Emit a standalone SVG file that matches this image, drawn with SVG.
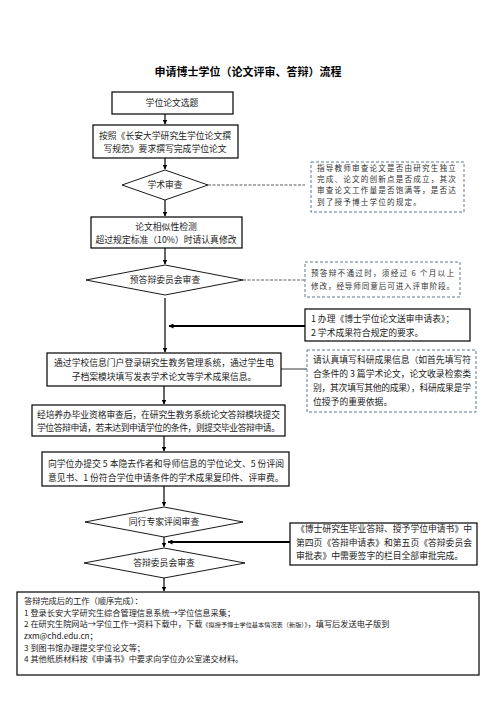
<svg xmlns="http://www.w3.org/2000/svg" width="496" height="702" viewBox="0 0 496 702">
<defs>
<marker id="ah" viewBox="0 0 10 10" refX="9" refY="5" markerWidth="5" markerHeight="5" orient="auto" markerUnits="userSpaceOnUse">
<path d="M0,0 L10,5 L0,10 z" fill="#000"/>
</marker>
<style>
.t{font-family:"Noto Sans CJK SC","Liberation Serif",serif;font-size:8.8px;fill:#222;}
.b{font-family:"Noto Sans CJK SC","Liberation Serif",serif;font-size:8.2px;fill:#222;}
.s{font-family:"Noto Sans CJK SC","Liberation Serif",serif;font-size:7.6px;fill:#333;}
.sp{letter-spacing:1.15px;}
.box{fill:#fff;stroke:#000;stroke-width:1.2;}
.dbox{fill:#fff;stroke:#4a6a8a;stroke-width:0.9;stroke-dasharray:3,2;}
.dia{fill:#fff;stroke:#000;stroke-width:0.9;}
.ln{stroke:#000;stroke-width:1.2;fill:none;}
.thick{stroke:#000;stroke-width:2;fill:none;}
.dl{stroke:#333;stroke-width:0.8;stroke-dasharray:3,1.5;fill:none;}
</style>
</defs>
<rect width="496" height="702" fill="#fff"/>
<text x="248" y="76" text-anchor="middle" style="font-family:'Noto Sans CJK SC',sans-serif;font-size:11px;font-weight:bold;fill:#000">申请博士学位（论文评审、答辩）流程</text>

<g id="connectors">
<line class="ln" x1="165" y1="114" x2="165" y2="124" marker-end="url(#ah)"/>
<line class="ln" x1="165" y1="158" x2="165" y2="169" marker-end="url(#ah)"/>
<line class="ln" x1="165" y1="200" x2="165" y2="216" marker-end="url(#ah)"/>
<line class="ln" x1="165" y1="248" x2="165" y2="264" marker-end="url(#ah)"/>
<line class="ln" x1="165" y1="298" x2="165" y2="352" marker-end="url(#ah)"/>
<line class="thick" x1="305" y1="326" x2="169" y2="326" marker-end="url(#ah)"/>
<line class="ln" x1="164" y1="386" x2="164" y2="404" marker-end="url(#ah)"/>
<line class="ln" x1="164" y1="436" x2="164" y2="451" marker-end="url(#ah)"/>
<line class="ln" x1="164" y1="486" x2="164" y2="506" marker-end="url(#ah)"/>
<line class="ln" x1="164" y1="537" x2="164" y2="547" marker-end="url(#ah)"/>
<line class="thick" x1="290" y1="542" x2="168" y2="542" marker-end="url(#ah)"/>
<line class="ln" x1="164" y1="578" x2="164" y2="591" marker-end="url(#ah)"/>
<line class="dl" x1="208" y1="185" x2="305" y2="185"/>
<line class="dl" x1="243" y1="280" x2="305" y2="280"/>
<line class="ln" style="stroke-width:0.8" x1="281" y1="369" x2="307" y2="369"/>
</g>

<g id="n1">
<rect class="box" x="112" y="92" width="121" height="22"/>
<text class="t" x="172" y="106" text-anchor="middle">学位论文选题</text>
</g>
<g id="n2">
<rect class="box" x="93" y="125" width="145" height="33"/>
<text class="t" x="165" y="139" text-anchor="middle">按照《长安大学研究生学位论文撰</text>
<text class="t" x="165" y="152" text-anchor="middle">写规范》要求撰写完成学位论文</text>
</g>
<g id="n3">
<polygon class="dia" points="122,185 165,170 208,185 165,200"/>
<text class="t" x="165" y="188" text-anchor="middle">学术审查</text>
</g>
<g id="n3note">
<rect class="dbox" x="311" y="162" width="153" height="50"/>
<text class="s sp" x="317" y="171">指导教师审查论文是否由研究生独立</text>
<text class="s sp" x="317" y="182">完成、论文的创新点是否成立，其次</text>
<text class="s sp" x="317" y="193">审查论文工作量是否饱满等，是否达</text>
<text class="s sp" x="317" y="205">到了授予博士学位的规定。</text>
</g>
<g id="n4">
<rect class="box" x="91" y="217" width="151" height="31"/>
<text class="t" x="166" y="230" text-anchor="middle">论文相似性检测</text>
<text class="t" x="166" y="243" text-anchor="middle">超过规定标准（10%）时请认真修改</text>
</g>
<g id="n5">
<polygon class="dia" points="86,280 165,265 243,280 165,295"/>
<text class="t" x="165" y="283" text-anchor="middle">预答辩委员会审查</text>
</g>
<g id="n5note">
<rect class="dbox" x="305" y="262" width="155" height="35"/>
<text class="s" x="311" y="276" textLength="143" lengthAdjust="spacing">预答辩不通过时，须经过 6 个月以上</text>
<text class="s" x="311" y="289" textLength="143" lengthAdjust="spacing">修改，经导师同意后可进入评审阶段。</text>
</g>
<g id="n6">
<rect class="box" x="305" y="309" width="165" height="32"/>
<text class="t" x="311" y="322">1 办理《博士学位论文送审申请表》；</text>
<text class="t" x="311" y="336">2 学术成果符合规定的要求。</text>
</g>
<g id="n7">
<rect class="box" x="47" y="353" width="234" height="33"/>
<text class="t" x="164" y="366" text-anchor="middle">通过学校信息门户登录研究生教务管理系统，通过学生电</text>
<text class="t" x="164" y="380" text-anchor="middle">子档案模块填写发表学术论文等学术成果信息。</text>
</g>
<g id="n7note">
<rect class="dbox" x="307" y="350" width="169" height="62"/>
<text class="t" x="313" y="363" textLength="158" lengthAdjust="spacing">请认真填写科研成果信息（如首先填写符</text>
<text class="t" x="313" y="377" textLength="158" lengthAdjust="spacing">合条件的 3 篇学术论文，论文收录检索类</text>
<text class="t" x="313" y="391" textLength="158" lengthAdjust="spacing">别，其次填写其他的成果），科研成果是学</text>
<text class="t" x="313" y="405">位授予的重要依据。</text>
</g>
<g id="n8">
<rect class="box" x="32" y="405" width="253" height="31"/>
<text class="t" x="37" y="418" textLength="243" lengthAdjust="spacing">经培养办毕业资格审查后，在研究生教务系统论文答辩模块提交</text>
<text class="t" x="37" y="431" textLength="243" lengthAdjust="spacing">学位答辩申请，若未达到申请学位的条件，则提交毕业答辩申请。</text>
</g>
<g id="n9">
<rect class="box" x="42" y="452" width="247" height="34"/>
<text class="t" x="48" y="467" textLength="236" lengthAdjust="spacing">向学位办提交 5 本隐去作者和导师信息的学位论文、5 份评阅</text>
<text class="t" x="48" y="481">意见书、1 份符合学位申请条件的学术成果复印件、评审费。</text>
</g>
<g id="n10">
<polygon class="dia" points="85,522 164,507 243,522 164,537"/>
<text class="t" x="164" y="525" text-anchor="middle">同行专家评阅审查</text>
</g>
<g id="n10note">
<rect class="box" x="290" y="523" width="187" height="42"/>
<text class="t" x="296" y="532" textLength="176" lengthAdjust="spacing">《博士研究生毕业答辩、授予学位申请书》中</text>
<text class="t" x="296" y="546" textLength="176" lengthAdjust="spacing">第四页《答辩申请表》和第五页《答辩委员会</text>
<text class="t" x="296" y="559">审批表》中需要签字的栏目全部审批完成。</text>
</g>
<g id="n11">
<polygon class="dia" points="84,563 164,548 245,563 164,578"/>
<text class="t" x="164" y="566" text-anchor="middle">答辩委员会审查</text>
</g>
<g id="n12">
<rect class="box" x="17" y="592" width="462" height="83"/>
<text class="b" x="24" y="604">答辩完成后的工作（顺序完成）：</text>
<text class="b" x="24" y="615.5">1 登录长安大学研究生综合管理信息系统→学位信息采集；</text>
<text class="b" x="24" y="627">2 在研究生院网站→学位工作→资料下载中，下载<tspan style="font-size:6.2px">《拟授予博士学位基本情况表（新版）》</tspan>，填写后发送电子版到</text>
<text class="b" x="24" y="639">zxm@chd.edu.cn；</text>
<text class="b" x="24" y="650.5">3 到图书馆办理提交学位论文等；</text>
<text class="b" x="24" y="662">4 其他纸质材料按《申请书》中要求向学位办公室递交材料。</text>
</g>
</svg>
